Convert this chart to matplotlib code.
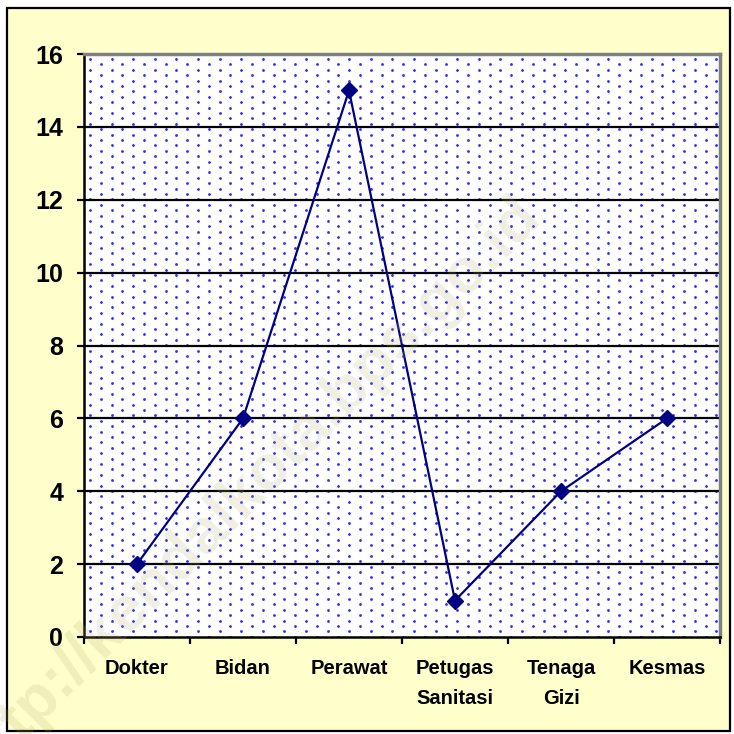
import numpy as np
import matplotlib
matplotlib.use('Agg')
import matplotlib.pyplot as plt
from matplotlib.patches import Rectangle

# Data
categories = ['Dokter', 'Bidan', 'Perawat', 'Petugas\nSanitasi', 'Tenaga\nGizi', 'Kesmas']
values = [2, 6, 15, 1, 4, 6]
y_ticks = [0, 2, 4, 6, 8, 10, 12, 14, 16]

plt.rcParams['font.family'] = ['Liberation Sans', 'DejaVu Sans']

W = H = 734
fig = plt.figure(figsize=(W / 100, H / 100), dpi=100, facecolor='white')

# Outer chart area (light yellow with black border)
fig.patches.append(Rectangle((7 / W, 3 / H), 723 / W, 723 / H, transform=fig.transFigure,
                             facecolor='#FFFFCC', edgecolor='black', linewidth=1.6, zorder=-1))

ax = fig.add_axes([84 / W, (H - 637) / H, (720 - 84) / W, (637 - 54) / H], zorder=0)
ax.set_facecolor('white')

# Dotted fill pattern of the plot area
ax_w, ax_h = 720 - 84, 637 - 54
step = 10.8
cols = np.arange(6, ax_w, step)
dx, dy = [], []
for i, cx in enumerate(cols):
    rows = np.arange(5 + (i % 2) * step / 2, ax_h, step)
    dx.extend([cx] * len(rows))
    dy.extend(rows)
ax.scatter(np.array(dx) / ax_w, 1 - np.array(dy) / ax_h, transform=ax.transAxes,
           s=4.0, marker='o', color='#2B2BFF', linewidths=0, zorder=0.5)

x = np.arange(len(categories))
ax.set_xlim(-0.5, len(categories) - 0.5)
ax.set_ylim(0, 16)

# Horizontal gridlines
for yv in y_ticks[1:-1]:
    ax.axhline(yv, color='black', linewidth=1.6, zorder=1)

ax.plot(x, values, color='#000080', linewidth=1.6, marker='D', markersize=8,
        markerfacecolor='#000080', markeredgecolor='#000080', zorder=3)

# Spines
ax.spines['left'].set_color('black')
ax.spines['bottom'].set_color('black')
ax.spines['left'].set_linewidth(1.8)
ax.spines['bottom'].set_linewidth(1.8)
ax.spines['top'].set_color('#808080')
ax.spines['right'].set_color('#808080')
ax.spines['top'].set_linewidth(2.5)
ax.spines['right'].set_linewidth(2.5)

ax.set_yticks(y_ticks)
ax.set_yticklabels([str(v) for v in y_ticks], fontsize=18, fontweight='bold')
ax.tick_params(axis='y', direction='out', length=5, width=1.6, pad=10)

# Category boundaries as ticks, labels at centres
ax.set_xticks(np.arange(-0.5, len(categories), 1.0))
ax.set_xticklabels([])
ax.tick_params(axis='x', direction='out', length=5, width=1.6)
for xi, lab in zip(x, categories):
    ax.text(xi, -0.6, lab, ha='center', va='top', fontsize=14.5, fontweight='bold',
            linespacing=1.75, transform=ax.transData, clip_on=False)

# Watermark
fig.text(0.34, 0.335, 'http://kendalkota.bps.go.id', rotation=45, fontsize=45,
         fontweight='bold', color='#B5AE70', alpha=0.2, ha='center', va='center', zorder=5)

fig.savefig('out.png', dpi=100, facecolor='white')
